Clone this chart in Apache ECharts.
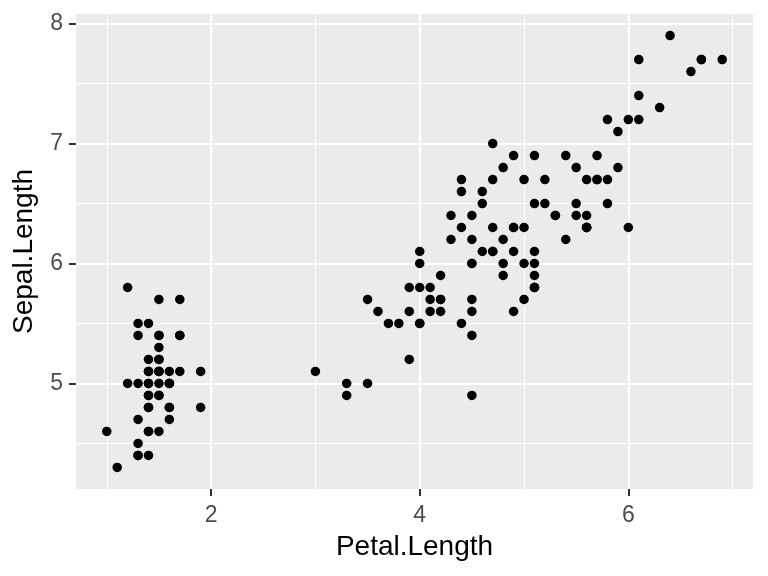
<!DOCTYPE html>
<html>
<head>
<meta charset="utf-8">
<script src="https://cdn.jsdelivr.net/npm/echarts@6/dist/echarts.min.js"></script>
<style>
html,body{margin:0;padding:0;background:#fff;}
#chart{width:768px;height:576px;}
</style>
</head>
<body>
<div id="chart"></div>
<script>
// Iris: Petal.Length (x) vs Sepal.Length (y)
const petalLength = [
1.4,1.4,1.3,1.5,1.4,1.7,1.4,1.5,1.4,1.5,1.5,1.6,1.4,1.1,1.2,1.5,1.3,1.4,1.7,1.5,
1.7,1.5,1.0,1.7,1.9,1.6,1.6,1.5,1.4,1.6,1.6,1.5,1.5,1.4,1.5,1.2,1.3,1.4,1.3,1.5,
1.3,1.3,1.3,1.6,1.9,1.4,1.6,1.4,1.5,1.4,
4.7,4.5,4.9,4.0,4.6,4.5,4.7,3.3,4.6,3.9,3.5,4.2,4.0,4.7,3.6,4.4,4.5,4.1,4.5,3.9,
4.8,4.0,4.9,4.7,4.3,4.4,4.8,5.0,4.5,3.5,3.8,3.7,3.9,5.1,4.5,4.5,4.7,4.4,4.1,4.0,
4.4,4.6,4.0,3.3,4.2,4.2,4.2,4.3,3.0,4.1,
6.0,5.1,5.9,5.6,5.8,6.6,4.5,6.3,5.8,6.1,5.1,5.3,5.5,5.0,5.1,5.3,5.5,6.7,6.9,5.0,
5.7,4.9,6.7,4.9,5.7,6.0,4.8,4.9,5.6,5.8,6.1,6.4,5.6,5.1,5.6,6.1,5.6,5.5,4.8,5.4,
5.6,5.1,5.1,5.9,5.7,5.2,5.0,5.2,5.4,5.1
];
const sepalLength = [
5.1,4.9,4.7,4.6,5.0,5.4,4.6,5.0,4.4,4.9,5.4,4.8,4.8,4.3,5.8,5.7,5.4,5.1,5.7,5.1,
5.4,5.1,4.6,5.1,4.8,5.0,5.0,5.2,5.2,4.7,4.8,5.4,5.2,5.5,4.9,5.0,5.5,4.9,4.4,5.1,
5.0,4.5,4.4,5.0,5.1,4.8,5.1,4.6,5.3,5.0,
7.0,6.4,6.9,5.5,6.5,5.7,6.3,4.9,6.6,5.2,5.0,5.9,6.0,6.1,5.6,6.7,5.6,5.8,6.2,5.6,
5.9,6.1,6.3,6.1,6.4,6.6,6.8,6.7,6.0,5.7,5.5,5.5,5.8,6.0,5.4,6.0,6.7,6.3,5.6,5.5,
5.5,6.1,5.8,5.0,5.6,5.7,5.7,6.2,5.1,5.7,
6.3,5.8,7.1,6.3,6.5,7.6,4.9,7.3,6.7,7.2,6.5,6.4,6.8,5.7,5.8,6.4,6.5,7.7,7.7,6.0,
6.9,5.6,7.7,6.3,6.7,7.2,6.2,6.1,6.4,7.2,7.4,7.9,6.3,6.1,6.3,7.7,6.3,6.4,6.0,6.9,
6.7,6.9,5.8,6.8,6.7,6.7,6.3,6.5,6.2,5.9
];
const xTicks = [2, 4, 6];
const xMinorGrid = [1, 3, 5, 7];
const yTicks = [5, 6, 7, 8];
const yMinorGrid = [4.5, 5.5, 6.5, 7.5];

function expand(arr) {
  const lo = Math.min(...arr), hi = Math.max(...arr), r = hi - lo;
  return [lo - 0.05 * r, hi + 0.05 * r];
}
const xr = expand(petalLength), yr = expand(sepalLength);
const points = petalLength.map((v, i) => [v, sepalLength[i]]);

const FONT = '"Liberation Sans", Arial, sans-serif';
const chart = echarts.init(document.getElementById('chart'), null, {renderer: 'canvas'});

const gridLines = [];
xMinorGrid.forEach(v => { if (v > xr[0] && v < xr[1]) gridLines.push({xAxis: v, lineStyle: {width: 1}}); });
yMinorGrid.forEach(v => gridLines.push({yAxis: v, lineStyle: {width: 1}}));
xTicks.forEach(v => gridLines.push({xAxis: v, lineStyle: {width: 2}}));
yTicks.forEach(v => gridLines.push({yAxis: v, lineStyle: {width: 2}}));

chart.setOption({
  animation: false,
  backgroundColor: '#FFFFFF',
  grid: {left: 76, right: 15, top: 14, bottom: 87, show: true, backgroundColor: '#EBEBEB', borderWidth: 0, containLabel: false},
  xAxis: {
    type: 'value', min: xr[0], max: xr[1],
    name: 'Petal.Length', nameLocation: 'middle', nameGap: 44,
    nameTextStyle: {color: '#000000', fontSize: 28, fontFamily: FONT},
    axisLine: {show: false},
    axisTick: {show: true, length: 7, lineStyle: {color: '#333333', width: 2}, customValues: xTicks},
    axisLabel: {customValues: xTicks, color: '#4D4D4D', fontSize: 23, fontFamily: FONT, margin: 15},
    splitLine: {show: false}
  },
  yAxis: {
    type: 'value', min: yr[0], max: yr[1],
    name: 'Sepal.Length', nameLocation: 'middle', nameGap: 38, nameRotate: 90,
    nameTextStyle: {color: '#000000', fontSize: 28, fontFamily: FONT},
    axisLine: {show: false},
    axisTick: {show: true, length: 7, lineStyle: {color: '#333333', width: 2}, customValues: yTicks},
    axisLabel: {customValues: yTicks, color: '#4D4D4D', fontSize: 23, fontFamily: FONT, margin: 13},
    splitLine: {show: false}
  },
  series: [
    {
      type: 'scatter', data: [], z: 1, silent: true,
      markLine: {silent: true, symbol: ['none', 'none'], label: {show: false}, animation: false,
        lineStyle: {color: '#FFFFFF', type: 'solid'}, data: gridLines}
    },
    {
      type: 'scatter', data: points, z: 5, symbol: 'circle', symbolSize: 9.5,
      itemStyle: {color: '#000000', opacity: 1}
    }
  ]
});
</script>
</body>
</html>
